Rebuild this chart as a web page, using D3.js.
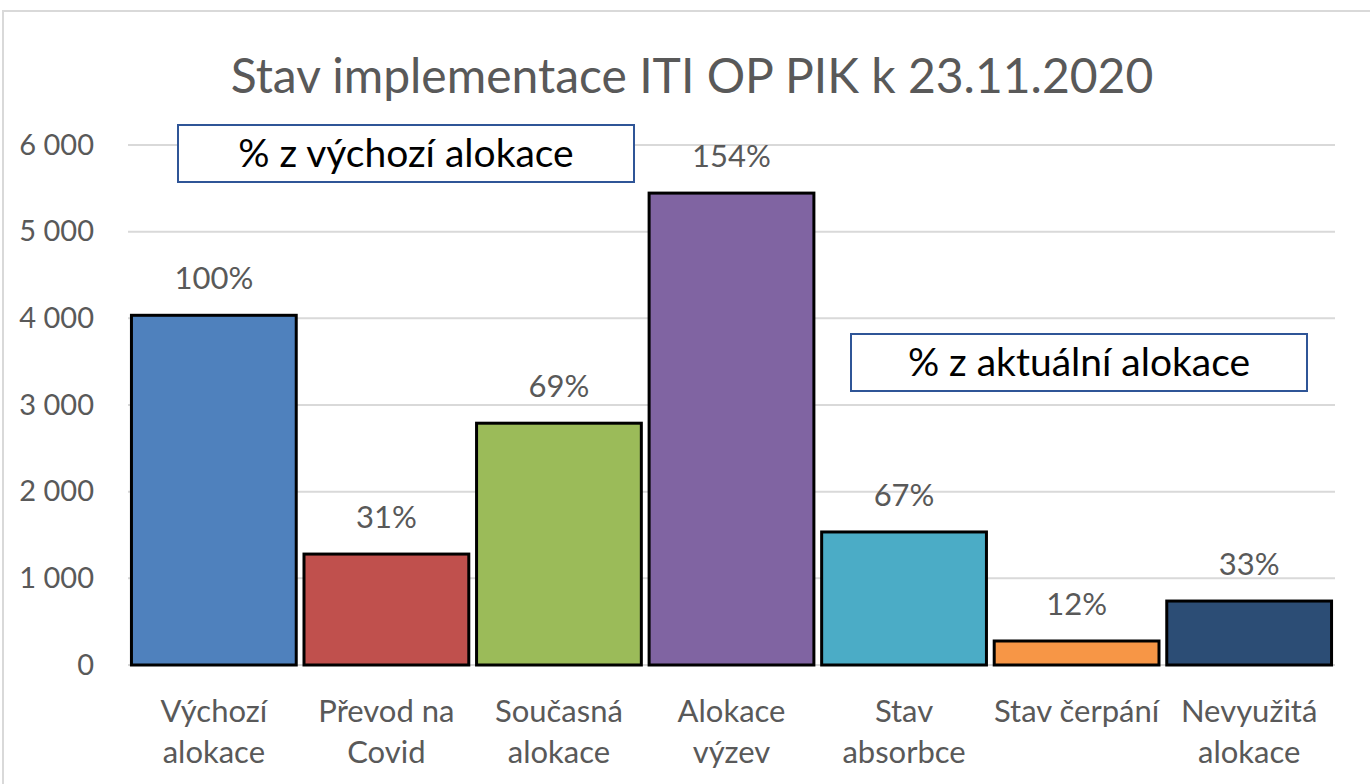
<!DOCTYPE html>
<html>
<head>
<meta charset="utf-8">
<script src="https://cdn.jsdelivr.net/npm/d3@7"></script>
<style>
  body { margin: 0; background: #fff; }
  svg { display: block; font-family: Lato, "Open Sans", sans-serif; }
</style>
</head>
<body>
<div id="chart"></div>
<script>
// chart data
var categories = [
  ["Výchozí", "alokace"],
  ["Převod na", "Covid"],
  ["Současná", "alokace"],
  ["Alokace", "výzev"],
  ["Stav", "absorbce"],
  ["Stav čerpání"],
  ["Nevyužitá", "alokace"]
];
var values = [4035, 1280, 2790, 5445, 1535, 277, 738];
var pctLabels = ["100%", "31%", "69%", "154%", "67%", "12%", "33%"];
var colors = ["#4F81BD", "#C0504D", "#9BBB59", "#8064A2", "#4BACC6", "#F79646", "#2C4D75"];
var yTicks = [0, 1000, 2000, 3000, 4000, 5000, 6000];
var title = "Stav implementace ITI OP PIK k 23.11.2020";
var notes = ["% z výchozí alokace", "% z aktuální alokace"];

var width = 1370, height = 784;
var plot = {left: 128, right: 1335, top: 145, bottom: 665};

var svg = d3.select("#chart").append("svg")
    .attr("width", width)
    .attr("height", height);

svg.append("rect")
    .attr("x", 3).attr("y", 11)
    .attr("width", width + 20).attr("height", height + 20)
    .style("fill", "#fff")
    .style("stroke", "#d9d9d9")
    .style("stroke-width", 2);

var x = d3.scaleBand()
    .domain(d3.range(values.length))
    .range([plot.left, plot.right])
    .paddingInner(0.045)
    .paddingOuter(0.02);

var y = d3.scaleLinear()
    .domain([0, 6000])
    .range([plot.bottom, plot.top]);

/* gridlines */
svg.append("g").selectAll("line")
    .data(yTicks)
    .enter().append("line")
    .attr("x1", plot.left).attr("x2", plot.right)
    .attr("y1", function(d) { return y(d); })
    .attr("y2", function(d) { return y(d); })
    .style("stroke", "#d9d9d9")
    .style("stroke-width", 2);

/* y axis labels */
var yAxis = d3.axisLeft(y)
    .tickValues(yTicks)
    .tickSize(0)
    .tickPadding(0)
    .tickFormat(function(d) { return d3.format(",")(d).replace(/,/g, " "); });

var yg = svg.append("g")
    .attr("transform", "translate(94,0)")
    .call(yAxis);
yg.select(".domain").remove();
yg.selectAll("text")
    .style("font-family", "Lato, sans-serif")
    .style("font-size", "29px")
    .style("fill", "#595959");

/* bars */
svg.append("g").selectAll("rect")
    .data(values)
    .enter().append("rect")
    .attr("x", function(d, i) { return x(i); })
    .attr("y", function(d) { return y(d); })
    .attr("width", x.bandwidth())
    .attr("height", function(d) { return y(0) - y(d); })
    .style("fill", function(d, i) { return colors[i]; })
    .style("stroke", "black")
    .style("stroke-width", 3);

/* data labels */
svg.append("g").selectAll("text")
    .data(values)
    .enter().append("text")
    .attr("x", function(d, i) { return x(i) + x.bandwidth() / 2; })
    .attr("y", function(d) { return y(d) - 26; })
    .attr("text-anchor", "middle")
    .style("font-size", "31px")
    .style("fill", "#595959")
    .text(function(d, i) { return pctLabels[i]; });

/* category labels */
var cat = svg.append("g").selectAll("text")
    .data(categories)
    .enter().append("text")
    .attr("text-anchor", "middle")
    .style("font-size", "31px")
    .style("fill", "#595959");
cat.selectAll("tspan")
    .data(function(d, i) { return d.map(function(t) { return {t: t, i: i}; }); })
    .enter().append("tspan")
    .attr("x", function(d) { return x(d.i) + x.bandwidth() / 2; })
    .attr("y", function(d, j) { return 722 + j * 41; })
    .text(function(d) { return d.t; });

/* title */
svg.append("text")
    .attr("x", 692)
    .attr("y", 93)
    .attr("text-anchor", "middle")
    .style("font-size", "48px")
    .style("fill", "#595959")
    .text(title);

/* note boxes */
var boxes = [
  {x: 178, y: 125, w: 456, h: 57, text: notes[0]},
  {x: 851, y: 334, w: 456, h: 57, text: notes[1]}
];
var nb = svg.append("g").selectAll("g")
    .data(boxes)
    .enter().append("g");
nb.append("rect")
    .attr("x", function(d) { return d.x; })
    .attr("y", function(d) { return d.y; })
    .attr("width", function(d) { return d.w; })
    .attr("height", function(d) { return d.h; })
    .style("fill", "#fff")
    .style("stroke", "#2F5597")
    .style("stroke-width", 2);
nb.append("text")
    .attr("x", function(d) { return d.x + d.w / 2; })
    .attr("y", function(d) { return d.y + 42; })
    .attr("text-anchor", "middle")
    .style("font-size", "39px")
    .style("fill", "#000")
    .text(function(d) { return d.text; });
</script>
</body>
</html>
